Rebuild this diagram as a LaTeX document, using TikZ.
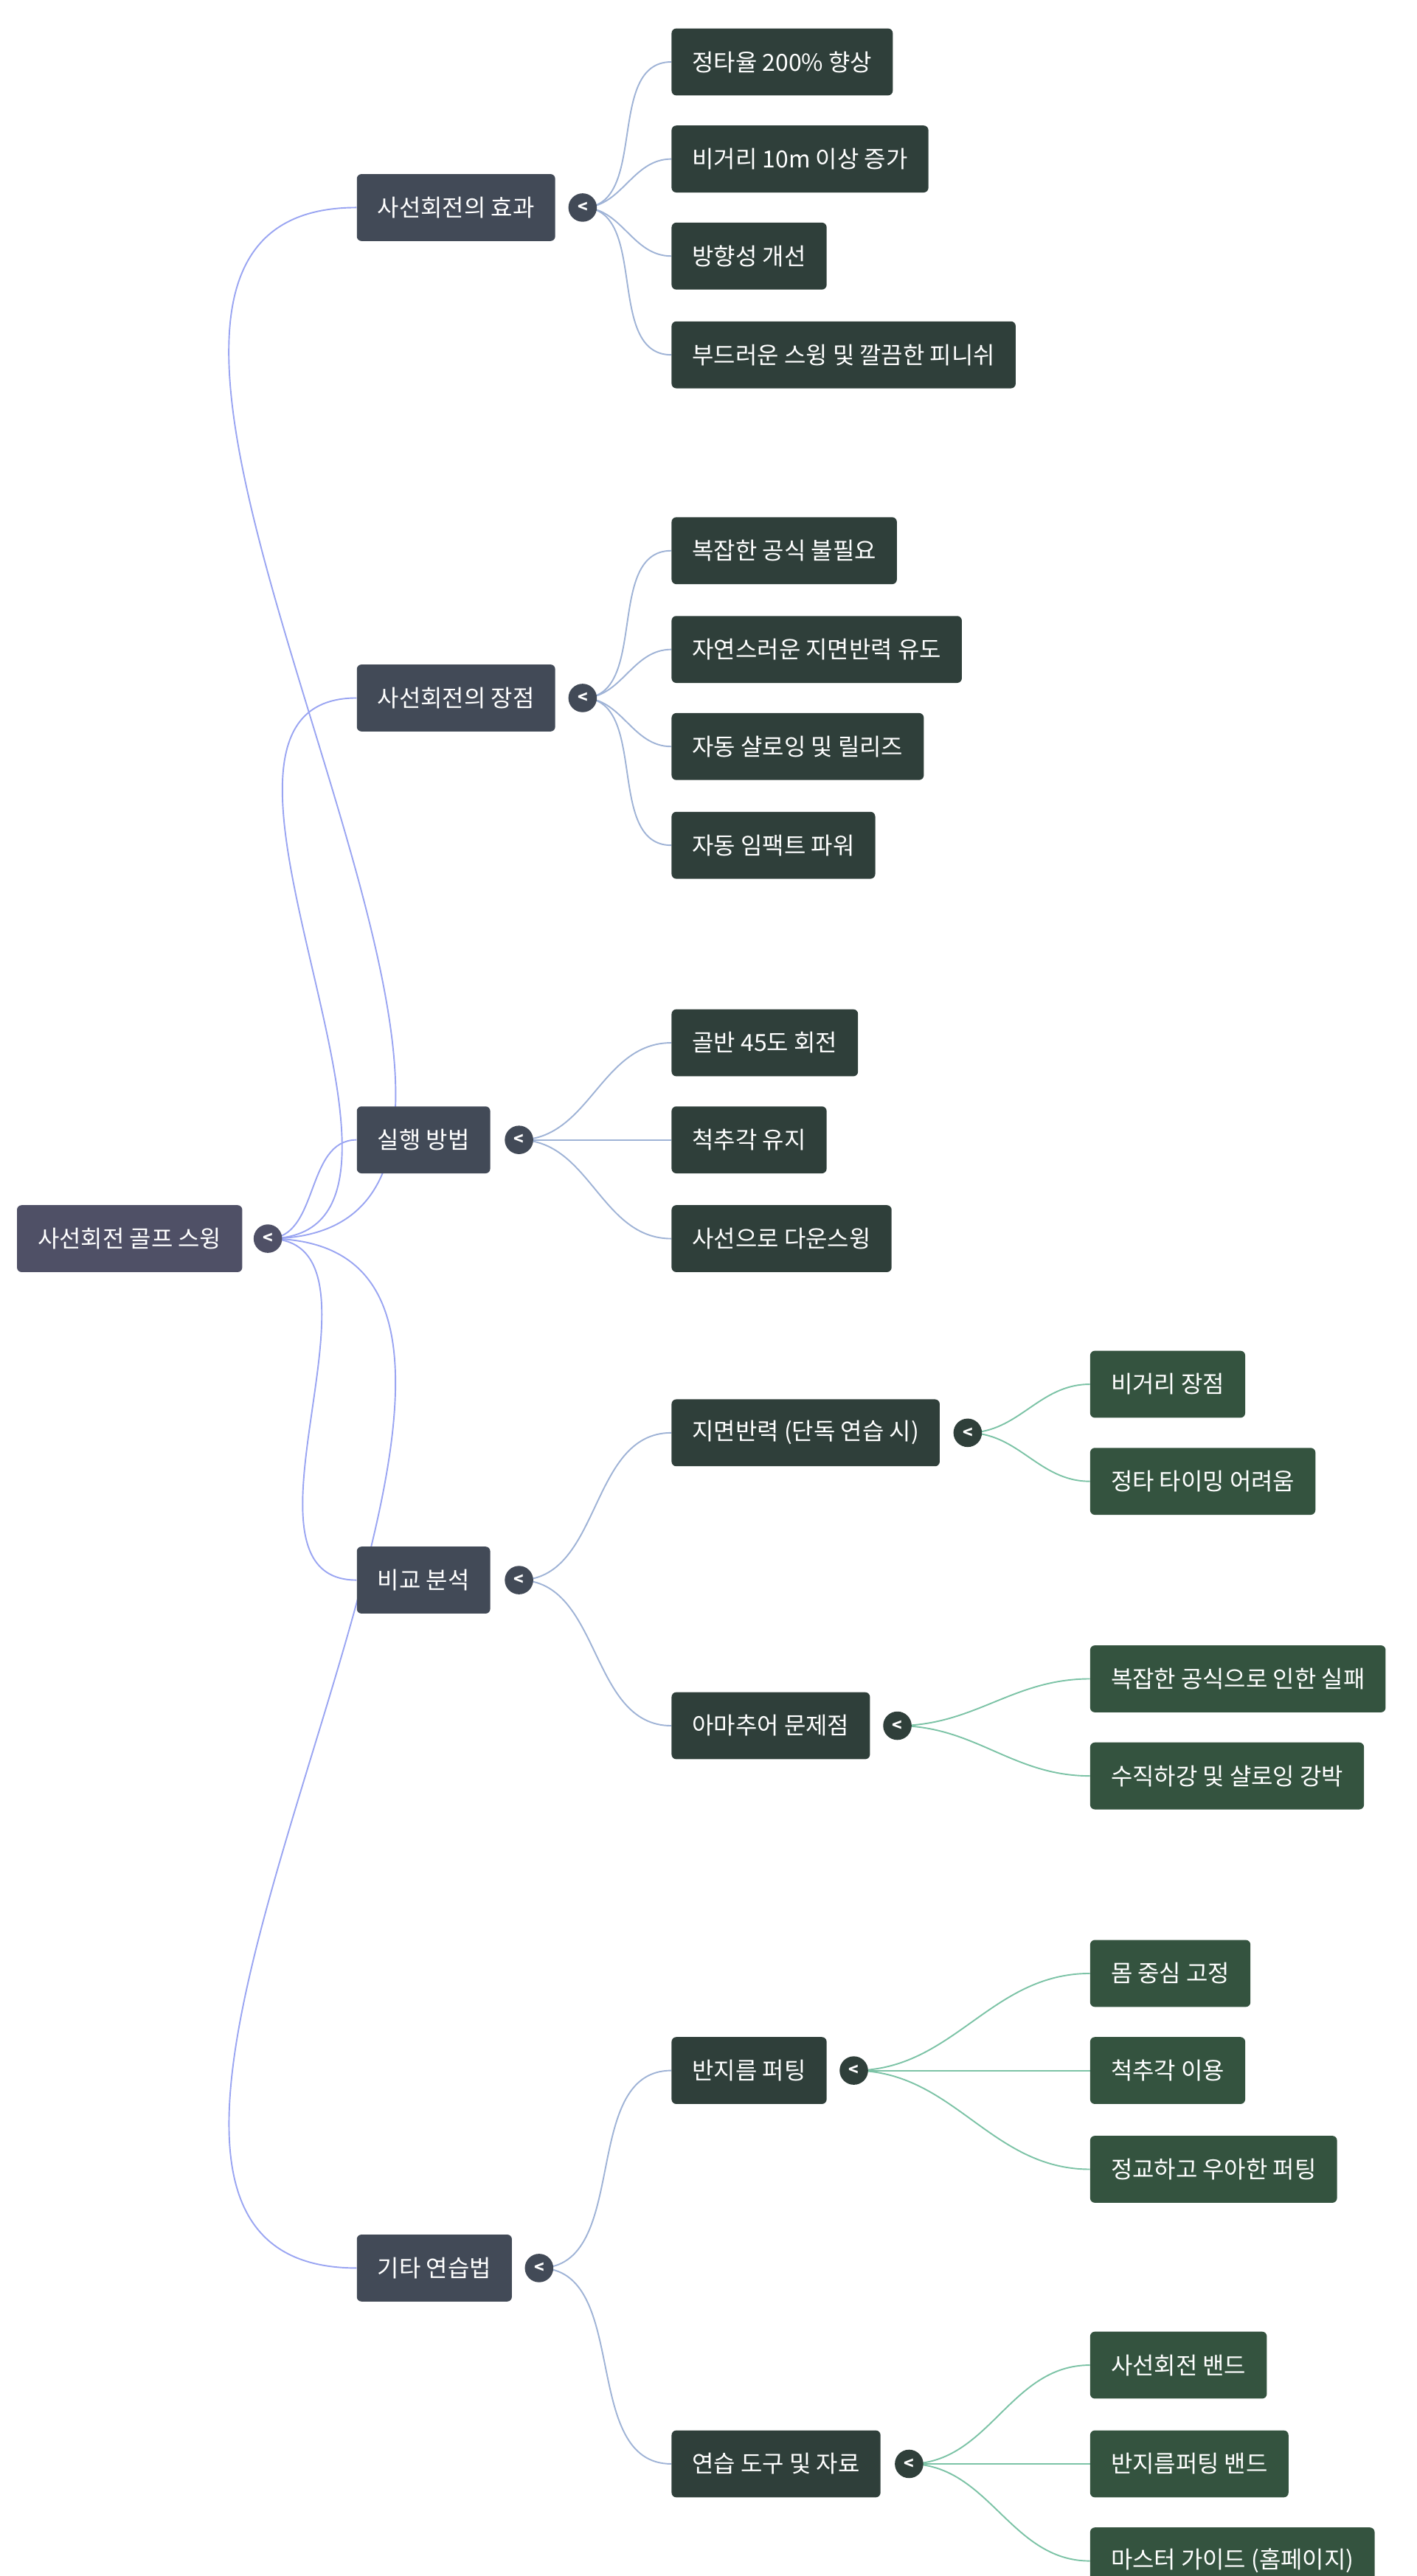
\documentclass[tikz,border=0pt]{standalone}
\usepackage{fontspec}
\setmainfont{Noto Sans CJK KR}
\usetikzlibrary{positioning,backgrounds}
\definecolor{rootc}{HTML}{4F5066}
\definecolor{mainc}{HTML}{424A57}
\definecolor{subc}{HTML}{2F3F3A}
\definecolor{leafc}{HTML}{34533F}
\definecolor{edgea}{HTML}{9AA5F2}
\definecolor{edgeb}{HTML}{9FB3D6}
\definecolor{edgec}{HTML}{7CC3A6}
\tikzset{
  box/.style={rectangle, rounded corners=4pt, anchor=west, text=white, minimum height=2cm, inner xsep=0.62cm, font=\fontsize{20}{24}\selectfont},
  root/.style={box, fill=rootc},
  main/.style={box, fill=mainc},
  sub/.style={box, fill=subc},
  leaf/.style={box, fill=leafc},
  tog/.style={circle, minimum size=0.85cm, inner sep=0pt, text=white, font=\fontsize{14}{14}\selectfont\bfseries},
  link/.style={line width=1.2pt, out=0, in=180}
}
\begin{document}
\begin{tikzpicture}[x=0.05cm, y=-0.05cm]
  \useasboundingbox (0,0) rectangle (846,1539);
  % Nodos
  \node[root] (r) at (10,740) {사선회전 골프 스윙};
  \node[main] (a) at (213,124) {사선회전의 효과};
  \node[main] (b) at (213,417) {사선회전의 장점};
  \node[main] (c) at (213,681) {실행 방법};
  \node[main] (d) at (213,944) {비교 분석};
  \node[main] (e) at (213,1355) {기타 연습법};

  \node[sub] (a1) at (401,37) {정타율 200\% 향상};
  \node[sub] (a2) at (401,95) {비거리 10m 이상 증가};
  \node[sub] (a3) at (401,153) {방향성 개선};
  \node[sub] (a4) at (401,212) {부드러운 스윙 및 깔끔한 피니쉬};
  \node[sub] (b1) at (401,329) {복잡한 공식 불필요};
  \node[sub] (b2) at (401,388) {자연스러운 지면반력 유도};
  \node[sub] (b3) at (401,446) {자동 샬로잉 및 릴리즈};
  \node[sub] (b4) at (401,505) {자동 임팩트 파워};
  \node[sub] (c1) at (401,623) {골반 45도 회전};
  \node[sub] (c2) at (401,681) {척추각 유지};
  \node[sub] (c3) at (401,740) {사선으로 다운스윙};
  \node[sub] (d1) at (401,856) {지면반력 (단독 연습 시)};
  \node[sub] (d2) at (401,1031) {아마추어 문제점};
  \node[sub] (e1) at (401,1237) {반지름 퍼팅};
  \node[sub] (e2) at (401,1472) {연습 도구 및 자료};

  \node[leaf] (d11) at (651,827) {비거리 장점};
  \node[leaf] (d12) at (651,885) {정타 타이밍 어려움};
  \node[leaf] (d21) at (651,1003) {복잡한 공식으로 인한 실패};
  \node[leaf] (d22) at (651,1061) {수직하강 및 샬로잉 강박};
  \node[leaf] (e11) at (651,1179) {몸 중심 고정};
  \node[leaf] (e12) at (651,1237) {척추각 이용};
  \node[leaf] (e13) at (651,1296) {정교하고 우아한 퍼팅};
  \node[leaf] (e21) at (651,1413) {사선회전 밴드};
  \node[leaf] (e22) at (651,1472) {반지름퍼팅 밴드};
  \node[leaf] (e23) at (651,1530) {마스터 가이드 (홈페이지)};

  % Botones
  \node[tog, fill=rootc] (tr) at (160,740) {<};
  \node[tog, fill=mainc] (ta) at (348,124) {<};
  \node[tog, fill=mainc] (tb) at (348,417) {<};
  \node[tog, fill=mainc] (tc) at (310,681) {<};
  \node[tog, fill=mainc] (td) at (310,944) {<};
  \node[tog, fill=mainc] (te) at (322,1355) {<};
  \node[tog, fill=subc] (td1) at (578,856) {<};
  \node[tog, fill=subc] (td2) at (536,1031) {<};
  \node[tog, fill=subc] (te1) at (510,1237) {<};
  \node[tog, fill=subc] (te2) at (543,1472) {<};

  % Aristas
  \begin{scope}[on background layer]
    \foreach \n in {a,b,c,d,e}
      \draw[link, edgea] (tr.center) to (\n.west);
    \foreach \n in {a1,a2,a3,a4}
      \draw[link, edgeb] (ta.center) to (\n.west);
    \foreach \n in {b1,b2,b3,b4}
      \draw[link, edgeb] (tb.center) to (\n.west);
    \foreach \n in {c1,c2,c3}
      \draw[link, edgeb] (tc.center) to (\n.west);
    \foreach \n in {d1,d2}
      \draw[link, edgeb] (td.center) to (\n.west);
    \foreach \n in {e1,e2}
      \draw[link, edgeb] (te.center) to (\n.west);
    \foreach \n in {d11,d12}
      \draw[link, edgec] (td1.center) to (\n.west);
    \foreach \n in {d21,d22}
      \draw[link, edgec] (td2.center) to (\n.west);
    \foreach \n in {e11,e12,e13}
      \draw[link, edgec] (te1.center) to (\n.west);
    \foreach \n in {e21,e22,e23}
      \draw[link, edgec] (te2.center) to (\n.west);
  \end{scope}
\end{tikzpicture}
\end{document}
